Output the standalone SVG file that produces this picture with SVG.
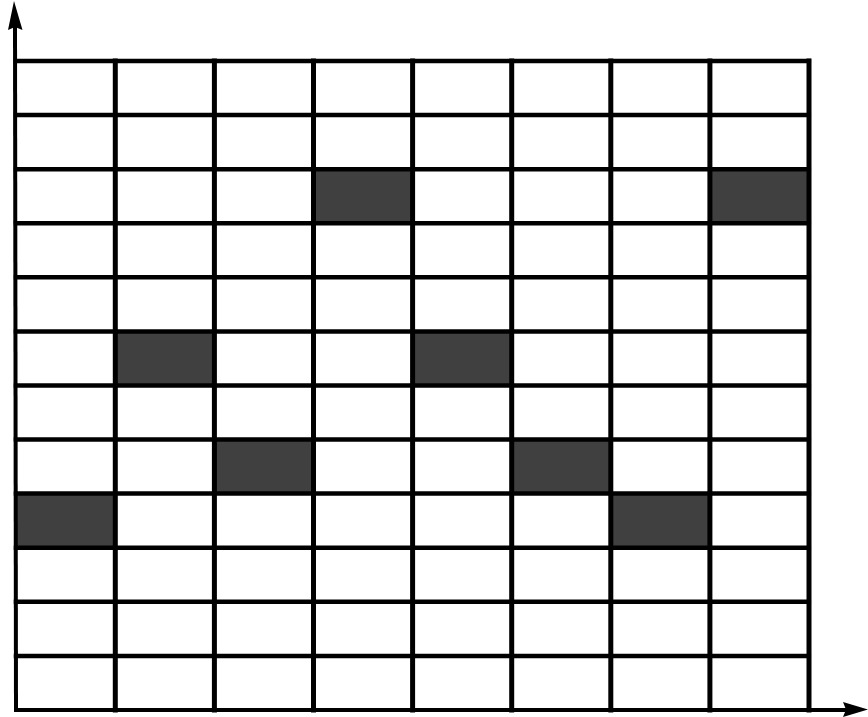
<svg xmlns="http://www.w3.org/2000/svg" width="868" height="717" viewBox="0 0 868 717">
<style>
.cell{fill:#404040;stroke:none}
.grid line{stroke:#000;stroke-width:4.5;stroke-linecap:square}
.grid line.v{stroke-width:5}
.axis{stroke:#000;stroke-width:4;fill:none}
.head{fill:#000;stroke:none}
</style>
<rect width="868" height="717" fill="#fff"/>
<g id="cells">
<g id="r2c3"><rect class="cell" x="313.3" y="169.2" width="99.1" height="54.1"/></g>
<g id="r2c7"><rect class="cell" x="709.7" y="169.2" width="99.1" height="54.1"/></g>
<g id="r5c1"><rect class="cell" x="115.1" y="331.5" width="99.1" height="54.1"/></g>
<g id="r5c4"><rect class="cell" x="412.4" y="331.5" width="99.1" height="54.1"/></g>
<g id="r7c2"><rect class="cell" x="214.2" y="439.6" width="99.1" height="54.1"/></g>
<g id="r7c5"><rect class="cell" x="511.5" y="439.6" width="99.1" height="54.1"/></g>
<g id="r8c0"><rect class="cell" x="16" y="493.7" width="99.1" height="54.1"/></g>
<g id="r8c6"><rect class="cell" x="610.6" y="493.7" width="99.1" height="54.1"/></g>
</g>
<g id="grid" class="grid">
<line x1="16" y1="61" x2="808.8" y2="61"/>
<line x1="16" y1="115.1" x2="808.8" y2="115.1"/>
<line x1="16" y1="169.2" x2="808.8" y2="169.2"/>
<line x1="16" y1="223.2" x2="808.8" y2="223.2"/>
<line x1="16" y1="277.3" x2="808.8" y2="277.3"/>
<line x1="16" y1="331.4" x2="808.8" y2="331.4"/>
<line x1="16" y1="385.5" x2="808.8" y2="385.5"/>
<line x1="16" y1="439.6" x2="808.8" y2="439.6"/>
<line x1="16" y1="493.6" x2="808.8" y2="493.6"/>
<line x1="16" y1="547.7" x2="808.8" y2="547.7"/>
<line x1="16" y1="601.8" x2="808.8" y2="601.8"/>
<line x1="16" y1="655.9" x2="808.8" y2="655.9"/>
<line class="v" x1="115.3" y1="61" x2="115.3" y2="710"/>
<line class="v" x1="214.4" y1="61" x2="214.4" y2="710"/>
<line class="v" x1="313.5" y1="61" x2="313.5" y2="710"/>
<line class="v" x1="412.6" y1="61" x2="412.6" y2="710"/>
<line class="v" x1="511.7" y1="61" x2="511.7" y2="710"/>
<line class="v" x1="610.8" y1="61" x2="610.8" y2="710"/>
<line class="v" x1="709.9" y1="61" x2="709.9" y2="710"/>
<line class="v" x1="809" y1="61" x2="809" y2="710"/>
</g>
<g id="axes">
<line class="axis" x1="16" y1="712" x2="15" y2="25"/>
<polygon class="head" points="14,1 22.5,30 15,27 8,30"/>
<line class="axis" x1="14" y1="710" x2="848" y2="710"/>
<polygon class="head" points="868,709.5 843,702 846,709.5 843,717"/>
</g>
</svg>
